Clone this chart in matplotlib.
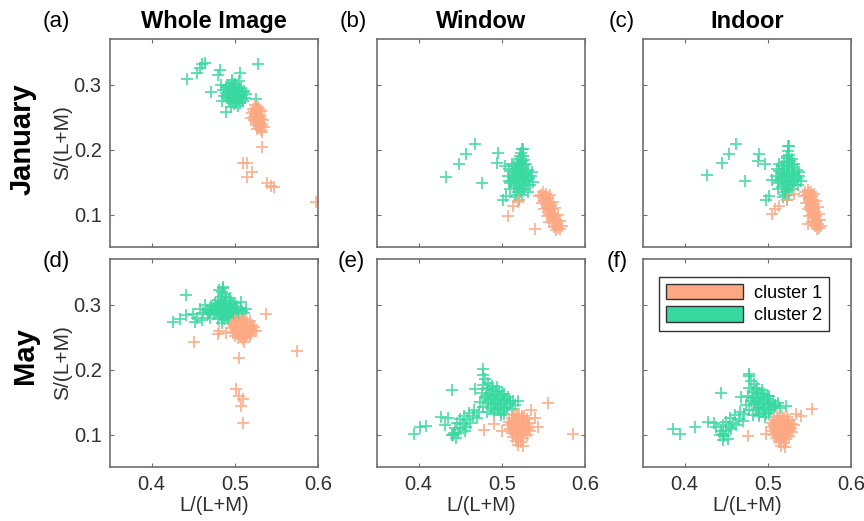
import matplotlib.pyplot as plt
from matplotlib.patches import Patch

plt.rcParams['font.family'] = ['Liberation Sans', 'DejaVu Sans']

# cluster colours
c1_col = '#FCA882'
c2_col = '#38D9A0'

col_titles = ['Whole Image', 'Window', 'Indoor']
row_titles = ['January', 'May']
panel_tags = ['(a)', '(b)', '(c)', '(d)', '(e)', '(f)']

# ---- (a) January, whole image ----
jan_whole_c2_x = [0.442, 0.455, 0.458, 0.461, 0.464, 0.482, 0.480, 0.471, 0.506, 0.528, 0.526, 0.489, 0.484,
                  0.492, 0.497, 0.502, 0.507, 0.511, 0.494, 0.499, 0.504, 0.509, 0.490, 0.495, 0.500, 0.505,
                  0.512, 0.491, 0.496, 0.501, 0.506, 0.487, 0.486, 0.498, 0.503, 0.508, 0.493, 0.499, 0.504,
                  0.489, 0.514, 0.497, 0.510, 0.485, 0.495, 0.505, 0.502, 0.496,
                  0.4945, 0.4995, 0.5045, 0.5095, 0.4925, 0.4975, 0.5025, 0.5075, 0.4935, 0.4985, 0.5035,
                  0.5085, 0.4965, 0.5015, 0.4905, 0.5005]
jan_whole_c2_y = [0.308, 0.317, 0.326, 0.331, 0.333, 0.322, 0.314, 0.289, 0.318, 0.331, 0.277, 0.258, 0.299,
                  0.300, 0.303, 0.298, 0.295, 0.290, 0.293, 0.291, 0.289, 0.284, 0.287, 0.285, 0.283, 0.280,
                  0.279, 0.279, 0.277, 0.275, 0.272, 0.282, 0.292, 0.296, 0.285, 0.288, 0.274, 0.270, 0.267,
                  0.296, 0.285, 0.307, 0.275, 0.275, 0.265, 0.306, 0.292, 0.289,
                  0.2965, 0.2945, 0.2925, 0.2885, 0.2905, 0.2875, 0.2865, 0.2825, 0.2825, 0.2805, 0.2785,
                  0.2775, 0.2725, 0.2715, 0.2835, 0.3005]
jan_whole_c1_x = [0.533, 0.533, 0.510, 0.515, 0.521, 0.515, 0.539, 0.544, 0.547, 0.597,
                  0.524, 0.528, 0.522, 0.527, 0.531, 0.521, 0.526, 0.530, 0.523, 0.528, 0.532, 0.524,
                  0.529, 0.533, 0.526, 0.531, 0.527, 0.532, 0.535, 0.520, 0.525, 0.529, 0.534,
                  0.5255, 0.5295, 0.5235, 0.5285, 0.5245, 0.5305, 0.5265, 0.5305, 0.5275, 0.5295, 0.5225]
jan_whole_c1_y = [0.227, 0.204, 0.180, 0.180, 0.165, 0.157, 0.149, 0.144, 0.143, 0.119,
                  0.268, 0.266, 0.262, 0.261, 0.259, 0.256, 0.255, 0.253, 0.250, 0.249, 0.247, 0.244,
                  0.243, 0.240, 0.238, 0.236, 0.232, 0.230, 0.234, 0.248, 0.258, 0.236, 0.245,
                  0.2645, 0.2625, 0.2585, 0.2575, 0.2525, 0.2505, 0.2465, 0.2415, 0.2405, 0.2335, 0.2455]

# ---- (b) January, window ----
jan_window_c2_x = [0.4325, 0.448, 0.4573, 0.4672, 0.4764, 0.496, 0.494, 0.5043, 0.501, 0.509, 0.532, 0.526, 0.505,
                   0.524, 0.523, 0.525, 0.521, 0.527, 0.518, 0.523, 0.529, 0.515, 0.520, 0.526, 0.532, 0.512,
                   0.517, 0.523, 0.529, 0.535, 0.514, 0.520, 0.526, 0.532, 0.511, 0.517, 0.523, 0.529, 0.515,
                   0.521, 0.527, 0.519, 0.524, 0.516, 0.521, 0.508, 0.537, 0.510,
                   0.5215, 0.5245, 0.5205, 0.5265, 0.5175, 0.5235, 0.5295, 0.5145, 0.5205, 0.5265, 0.5325,
                   0.5145, 0.5205, 0.5265, 0.5185, 0.5245, 0.5215, 0.5185,
                   0.509, 0.512, 0.536, 0.534, 0.510]
jan_window_c2_y = [0.157, 0.178, 0.193, 0.208, 0.148, 0.194, 0.180, 0.175, 0.122, 0.152, 0.134, 0.201, 0.128,
                   0.201, 0.195, 0.190, 0.186, 0.184, 0.180, 0.179, 0.177, 0.174, 0.172, 0.171, 0.168, 0.167,
                   0.165, 0.164, 0.162, 0.160, 0.158, 0.157, 0.155, 0.153, 0.151, 0.150, 0.148, 0.146, 0.143,
                   0.141, 0.139, 0.134, 0.130, 0.127, 0.122, 0.160, 0.150, 0.140,
                   0.1905, 0.1825, 0.1765, 0.1755, 0.1695, 0.1685, 0.1655, 0.1625, 0.1605, 0.1585, 0.1565,
                   0.1545, 0.1535, 0.1505, 0.1455, 0.1445, 0.1375, 0.1305,
                   0.170, 0.178, 0.165, 0.145, 0.148]
jan_window_c1_x = [0.507, 0.540, 0.513, 0.519, 0.521,
                   0.550, 0.553, 0.549, 0.555, 0.551, 0.557, 0.553, 0.559, 0.555, 0.560, 0.556, 0.562,
                   0.558, 0.563, 0.560, 0.565, 0.561, 0.566, 0.563, 0.568, 0.565, 0.570, 0.547,
                   0.5515, 0.5535, 0.5555, 0.5575, 0.5585, 0.5605, 0.5615, 0.5635, 0.5655,
                   0.545, 0.548, 0.551, 0.554, 0.557, 0.558, 0.561, 0.564, 0.567, 0.570, 0.572]
jan_window_c1_y = [0.098, 0.077, 0.113, 0.119, 0.123,
                   0.135, 0.131, 0.127, 0.126, 0.121, 0.120, 0.116, 0.115, 0.110, 0.109, 0.104, 0.103,
                   0.099, 0.097, 0.093, 0.091, 0.087, 0.085, 0.081, 0.079, 0.076, 0.078, 0.130,
                   0.129, 0.1235, 0.118, 0.1125, 0.1065, 0.1005, 0.095, 0.089, 0.083,
                   0.128, 0.118, 0.108, 0.098, 0.089, 0.130, 0.120, 0.110, 0.100, 0.090, 0.082]

# ---- (c) January, indoor ----
jan_indoor_c2_x = [0.4274, 0.4453, 0.4532, 0.462, 0.472, 0.490, 0.488, 0.497, 0.498, 0.5047, 0.5246, 0.502,
                   0.525, 0.524, 0.526, 0.523, 0.529, 0.520, 0.526, 0.532, 0.517, 0.523, 0.529, 0.535, 0.514,
                   0.520, 0.526, 0.532, 0.538, 0.516, 0.522, 0.528, 0.534, 0.513, 0.519, 0.525, 0.531, 0.517,
                   0.523, 0.529, 0.521, 0.526, 0.518, 0.523, 0.510, 0.540, 0.512,
                   0.5235, 0.5265, 0.5225, 0.5285, 0.5195, 0.5255, 0.5315, 0.5165, 0.5225, 0.5285, 0.5345,
                   0.5165, 0.5225, 0.5285, 0.5205, 0.5265, 0.5235, 0.5205,
                   0.511, 0.514, 0.538, 0.536, 0.512]
jan_indoor_c2_y = [0.161, 0.179, 0.193, 0.209, 0.151, 0.193, 0.182, 0.178, 0.123, 0.153, 0.206, 0.128,
                   0.206, 0.198, 0.192, 0.187, 0.185, 0.181, 0.179, 0.177, 0.175, 0.173, 0.171, 0.168, 0.167,
                   0.166, 0.164, 0.162, 0.160, 0.158, 0.157, 0.155, 0.153, 0.151, 0.150, 0.148, 0.146, 0.143,
                   0.141, 0.139, 0.134, 0.130, 0.127, 0.122, 0.160, 0.152, 0.140,
                   0.1905, 0.1825, 0.1765, 0.1755, 0.1695, 0.1685, 0.1655, 0.1625, 0.1605, 0.1585, 0.1565,
                   0.1545, 0.1535, 0.1505, 0.1455, 0.1445, 0.1375, 0.1305,
                   0.170, 0.178, 0.165, 0.145, 0.148]
jan_indoor_c1_x = [0.5047, 0.514, 0.532, 0.523, 0.5478, 0.509,
                   0.548, 0.552, 0.547, 0.553, 0.549, 0.554, 0.550, 0.555, 0.551, 0.556, 0.552, 0.557,
                   0.553, 0.558, 0.554, 0.559, 0.556, 0.560, 0.557, 0.561, 0.559, 0.545,
                   0.5495, 0.5505, 0.5515, 0.5525, 0.5535, 0.5545, 0.5555, 0.5575, 0.5585,
                   0.544, 0.546, 0.548, 0.550, 0.553, 0.556, 0.558, 0.560, 0.562, 0.563, 0.564]
jan_indoor_c1_y = [0.1006, 0.113, 0.1315, 0.123, 0.0852, 0.108,
                   0.137, 0.135, 0.130, 0.129, 0.124, 0.122, 0.118, 0.116, 0.112, 0.110, 0.106, 0.104,
                   0.100, 0.098, 0.094, 0.092, 0.088, 0.086, 0.082, 0.080, 0.077, 0.134,
                   0.1325, 0.127, 0.121, 0.115, 0.109, 0.103, 0.097, 0.090, 0.084,
                   0.128, 0.118, 0.108, 0.098, 0.089, 0.131, 0.121, 0.111, 0.101, 0.091, 0.083]

# ---- (d) May, whole image ----
may_whole_c2_x = [0.4417, 0.4257, 0.4337, 0.4417, 0.4517, 0.4497, 0.4577, 0.4636, 0.4696, 0.4816, 0.4856, 0.5075,
                  0.455, 0.460,
                  0.486, 0.485, 0.488, 0.483, 0.490, 0.480, 0.486, 0.493, 0.499, 0.476, 0.482, 0.488, 0.495,
                  0.501, 0.471, 0.477, 0.484, 0.490, 0.497, 0.503, 0.509, 0.466, 0.472, 0.479, 0.486, 0.492,
                  0.499, 0.505, 0.511, 0.462, 0.468, 0.475, 0.482, 0.489, 0.496, 0.502, 0.480, 0.487, 0.493,
                  0.485, 0.507, 0.513, 0.494, 0.470,
                  0.4835, 0.4895, 0.4965, 0.4795, 0.4865, 0.4935, 0.5005, 0.4745, 0.4815, 0.4885, 0.4955,
                  0.5025, 0.4695, 0.4765, 0.4835, 0.4905, 0.4975, 0.4845, 0.4915, 0.4985]
may_whole_c2_y = [0.3144, 0.273, 0.2783, 0.2834, 0.273, 0.286, 0.2938, 0.2989, 0.2885, 0.322, 0.3272, 0.304,
                  0.280, 0.276,
                  0.325, 0.320, 0.316, 0.312, 0.311, 0.307, 0.306, 0.305, 0.303, 0.302, 0.301, 0.300, 0.299,
                  0.297, 0.297, 0.296, 0.295, 0.294, 0.293, 0.291, 0.290, 0.292, 0.291, 0.290, 0.289, 0.288,
                  0.287, 0.285, 0.287, 0.287, 0.286, 0.285, 0.284, 0.283, 0.282, 0.280, 0.278, 0.277, 0.276,
                  0.272, 0.295, 0.293, 0.310, 0.280,
                  0.3035, 0.3025, 0.3005, 0.2985, 0.2975, 0.2965, 0.2945, 0.2935, 0.2925, 0.2915, 0.2905,
                  0.2885, 0.2885, 0.2875, 0.2865, 0.2855, 0.2845, 0.2805, 0.2795, 0.2785]
may_whole_c1_x = [0.5375, 0.575, 0.4505, 0.4795, 0.481, 0.5255, 0.5115, 0.5055, 0.5016, 0.5047, 0.5095, 0.5075,
                  0.510, 0.490, 0.520,
                  0.500, 0.506, 0.512, 0.518, 0.497, 0.503, 0.509, 0.515, 0.521, 0.495, 0.501, 0.507, 0.513,
                  0.519, 0.498, 0.504, 0.510, 0.516, 0.522, 0.500, 0.506, 0.512, 0.518, 0.504, 0.510, 0.523,
                  0.503, 0.509, 0.515, 0.499, 0.506, 0.512, 0.518, 0.501, 0.507, 0.513, 0.519, 0.503, 0.509,
                  0.515, 0.507, 0.513]
may_whole_c1_y = [0.286, 0.229, 0.242, 0.255, 0.260, 0.260, 0.242, 0.217, 0.170, 0.159, 0.155, 0.144,
                  0.118, 0.256, 0.255,
                  0.276, 0.278, 0.277, 0.274, 0.270, 0.271, 0.272, 0.270, 0.268, 0.264, 0.265, 0.266, 0.264,
                  0.263, 0.258, 0.259, 0.258, 0.257, 0.259, 0.252, 0.253, 0.252, 0.251, 0.248, 0.247, 0.265,
                  0.274, 0.275, 0.273, 0.2675, 0.2685, 0.267, 0.266, 0.2615, 0.262, 0.261, 0.260, 0.2555, 0.2555,
                  0.2545, 0.250, 0.2495]

# ---- (e) May, window ----
may_window_c2_x = [0.3946, 0.4014, 0.4094, 0.4266, 0.440, 0.4772, 0.4413, 0.456, 0.4672, 0.519, 0.503, 0.435, 0.432,
                   0.478, 0.480, 0.484, 0.478, 0.488, 0.494, 0.482, 0.490, 0.497, 0.503, 0.476, 0.485, 0.493,
                   0.500, 0.507, 0.513, 0.480, 0.488, 0.496, 0.503, 0.510, 0.516, 0.474, 0.483, 0.491, 0.499,
                   0.506, 0.478, 0.487, 0.495, 0.503, 0.482, 0.491, 0.499, 0.472, 0.512,
                   0.466, 0.460, 0.465, 0.455, 0.450, 0.458, 0.446, 0.453, 0.462, 0.444, 0.450, 0.457, 0.442,
                   0.447, 0.440, 0.445, 0.470,
                   0.486, 0.4935, 0.500, 0.481, 0.489, 0.4965, 0.5035, 0.510, 0.484, 0.4915, 0.499, 0.5065,
                   0.487, 0.495, 0.5025, 0.491, 0.4985]
may_window_c2_y = [0.1006, 0.111, 0.1134, 0.1262, 0.1686, 0.201, 0.0985, 0.1057, 0.170, 0.152, 0.131, 0.126, 0.115,
                   0.192, 0.185, 0.180, 0.176, 0.175, 0.173, 0.170, 0.168, 0.167, 0.163, 0.164, 0.162, 0.161,
                   0.159, 0.157, 0.152, 0.156, 0.155, 0.153, 0.151, 0.148, 0.145, 0.150, 0.149, 0.147, 0.145,
                   0.143, 0.142, 0.141, 0.139, 0.137, 0.134, 0.132, 0.130, 0.135, 0.140,
                   0.138, 0.133, 0.128, 0.129, 0.124, 0.122, 0.118, 0.116, 0.118, 0.110, 0.109, 0.112, 0.103,
                   0.102, 0.099, 0.095, 0.125,
                   0.1715, 0.165, 0.162, 0.159, 0.1585, 0.1565, 0.1545, 0.151, 0.1525, 0.1505, 0.149, 0.1465,
                   0.145, 0.143, 0.141, 0.137, 0.135]
may_window_c1_x = [0.555, 0.585, 0.479, 0.491, 0.543, 0.535, 0.500, 0.540,
                   0.515, 0.521, 0.527, 0.512, 0.518, 0.524, 0.530, 0.509, 0.515, 0.521, 0.527, 0.533, 0.508,
                   0.514, 0.520, 0.526, 0.532, 0.510, 0.516, 0.522, 0.528, 0.534, 0.512, 0.518, 0.524, 0.530,
                   0.514, 0.520, 0.526, 0.517, 0.523, 0.520, 0.525,
                   0.518, 0.524, 0.515, 0.521, 0.527, 0.512, 0.518, 0.524, 0.530, 0.513, 0.519, 0.525, 0.531,
                   0.515, 0.521, 0.527, 0.517, 0.523, 0.520]
may_window_c1_y = [0.148, 0.101, 0.107, 0.116, 0.111, 0.137, 0.105, 0.125,
                   0.130, 0.131, 0.129, 0.125, 0.126, 0.125, 0.124, 0.120, 0.120, 0.120, 0.119, 0.118, 0.114,
                   0.114, 0.114, 0.113, 0.112, 0.108, 0.108, 0.108, 0.107, 0.106, 0.102, 0.102, 0.101, 0.100,
                   0.096, 0.096, 0.095, 0.090, 0.089, 0.084, 0.083,
                   0.1285, 0.128, 0.123, 0.123, 0.122, 0.117, 0.117, 0.1165, 0.1155, 0.111, 0.111, 0.110, 0.109,
                   0.105, 0.105, 0.104, 0.099, 0.0985, 0.093]

# ---- (f) May, indoor ----
may_indoor_c2_x = [0.3863, 0.3943, 0.4122, 0.428, 0.4441, 0.478, 0.468, 0.5219, 0.446, 0.435, 0.438,
                   0.478, 0.480, 0.484, 0.478, 0.487, 0.493, 0.482, 0.489, 0.496, 0.502, 0.476, 0.485, 0.492,
                   0.499, 0.506, 0.512, 0.480, 0.488, 0.495, 0.502, 0.509, 0.515, 0.474, 0.483, 0.490, 0.497,
                   0.504, 0.478, 0.486, 0.494, 0.501, 0.482, 0.490, 0.497, 0.471,
                   0.466, 0.460, 0.465, 0.455, 0.450, 0.458, 0.446, 0.453, 0.462, 0.444, 0.450, 0.456, 0.442,
                   0.447, 0.452, 0.446, 0.470,
                   0.486, 0.4925, 0.499, 0.481, 0.4885, 0.4955, 0.5025, 0.509, 0.4835, 0.4915, 0.4985, 0.506,
                   0.487, 0.4945, 0.502, 0.490, 0.4975]
may_indoor_c2_y = [0.1083, 0.1006, 0.111, 0.1185, 0.1634, 0.1933, 0.1583, 0.1443, 0.1006, 0.118, 0.112,
                   0.190, 0.183, 0.177, 0.172, 0.172, 0.169, 0.166, 0.164, 0.163, 0.159, 0.160, 0.158, 0.157,
                   0.155, 0.152, 0.148, 0.152, 0.151, 0.149, 0.147, 0.144, 0.141, 0.146, 0.145, 0.143, 0.141,
                   0.139, 0.138, 0.137, 0.135, 0.133, 0.130, 0.128, 0.127, 0.132,
                   0.135, 0.130, 0.124, 0.125, 0.120, 0.118, 0.114, 0.112, 0.114, 0.106, 0.105, 0.108, 0.099,
                   0.097, 0.093, 0.091, 0.121,
                   0.1685, 0.163, 0.159, 0.156, 0.1545, 0.153, 0.1505, 0.146, 0.1485, 0.147, 0.145, 0.142,
                   0.141, 0.139, 0.137, 0.132, 0.131]
may_indoor_c1_x = [0.5537, 0.476, 0.498, 0.5335, 0.532, 0.540,
                   0.511, 0.517, 0.523, 0.508, 0.514, 0.520, 0.526, 0.505, 0.511, 0.517, 0.523, 0.529, 0.504,
                   0.510, 0.516, 0.522, 0.528, 0.506, 0.512, 0.518, 0.524, 0.529, 0.508, 0.514, 0.520, 0.526,
                   0.510, 0.516, 0.522, 0.513, 0.519, 0.516, 0.521,
                   0.514, 0.520, 0.511, 0.517, 0.523, 0.508, 0.514, 0.520, 0.526, 0.509, 0.515, 0.521, 0.5265,
                   0.511, 0.517, 0.523, 0.513, 0.519, 0.516]
may_indoor_c1_y = [0.1393, 0.098, 0.1006, 0.1315, 0.115, 0.128,
                   0.128, 0.129, 0.127, 0.123, 0.123, 0.123, 0.122, 0.118, 0.118, 0.118, 0.117, 0.116, 0.112,
                   0.112, 0.112, 0.111, 0.110, 0.106, 0.106, 0.106, 0.105, 0.104, 0.100, 0.100, 0.099, 0.098,
                   0.094, 0.094, 0.093, 0.088, 0.087, 0.082, 0.081,
                   0.126, 0.1255, 0.1205, 0.1205, 0.1195, 0.115, 0.115, 0.1145, 0.1135, 0.109, 0.109, 0.108, 0.107,
                   0.103, 0.103, 0.102, 0.097, 0.0965, 0.091]

panels = [
    (jan_whole_c1_x, jan_whole_c1_y, jan_whole_c2_x, jan_whole_c2_y),
    (jan_window_c1_x, jan_window_c1_y, jan_window_c2_x, jan_window_c2_y),
    (jan_indoor_c1_x, jan_indoor_c1_y, jan_indoor_c2_x, jan_indoor_c2_y),
    (may_whole_c1_x, may_whole_c1_y, may_whole_c2_x, may_whole_c2_y),
    (may_window_c1_x, may_window_c1_y, may_window_c2_x, may_window_c2_y),
    (may_indoor_c1_x, may_indoor_c1_y, may_indoor_c2_x, may_indoor_c2_y),
]

W, H = 864, 521
fig = plt.figure(figsize=(W / 100, H / 100), dpi=100)

lefts = [110, 377, 643]  # pixel positions of the panel boxes
tops = [39, 259]
aw, ah = 208, 208
spine_col = '#6e6e6e'
text_col = '#303030'

for i, (c1x, c1y, c2x, c2y) in enumerate(panels):
    r, c = divmod(i, 3)
    ax = fig.add_axes([lefts[c] / W, 1 - (tops[r] + ah) / H, aw / W, ah / H])
    ax.plot(c2x, c2y, '+', color=c2_col, ms=8, mew=1.3, alpha=0.85, linestyle='none')
    ax.plot(c1x, c1y, '+', color=c1_col, ms=8, mew=1.3, alpha=0.85, linestyle='none')
    ax.set_xlim(0.35, 0.6)
    ax.set_ylim(0.05, 0.37)
    ax.set_xticks([0.4, 0.5, 0.6])
    ax.set_yticks([0.1, 0.2, 0.3])
    ax.tick_params(direction='in', length=3, width=0.8, color=spine_col, top=True, right=True,
                   labelsize=14.5, labelcolor=text_col, pad=6)
    for s in ax.spines.values():
        s.set_color(spine_col)
        s.set_linewidth(1.2)
    if r == 0:
        ax.set_xticklabels([])
        ax.set_title(col_titles[c], fontsize=17, fontweight='bold', pad=8)
    else:
        ax.set_xticklabels(['0.4', '0.5', '0.6'])
        ax.set_xlabel('L/(L+M)', fontsize=14.5, color=text_col, labelpad=1)
    if c == 0:
        ax.set_yticklabels(['0.1', '0.2', '0.3'])
        ax.set_ylabel('S/(L+M)', fontsize=15, color=text_col, labelpad=1)
    else:
        ax.set_yticklabels([])
    if i == 5:
        handles = [Patch(facecolor=c1_col, edgecolor='#333333', lw=1, label='cluster 1'),
                   Patch(facecolor=c2_col, edgecolor='#333333', lw=1, label='cluster 2')]
        leg = ax.legend(handles=handles, loc='upper left', bbox_to_anchor=(0.035, 0.955), fontsize=13,
                        handlelength=4.3, handleheight=0.95, handletextpad=0.6, labelspacing=0.25,
                        borderpad=0.35, fancybox=False, framealpha=1, edgecolor='#333333')
        leg.get_frame().set_linewidth(1.0)

# panel tags
tag_pos = [(43, 22), (340, 22), (609, 22), (43, 261), (338, 261), (607, 261)]
for t, (px, py) in zip(panel_tags, tag_pos):
    fig.text(px / W, 1 - py / H, t, fontsize=16, ha='left', va='center', color='black')

# row titles
fig.text(23 / W, 1 - 139 / H, row_titles[0], rotation=90, fontsize=21, fontweight='bold',
         ha='center', va='center')
fig.text(25 / W, 1 - 356 / H, row_titles[1], rotation=90, fontsize=21, fontweight='bold',
         ha='center', va='center')

fig.savefig('out.png', dpi=100)
